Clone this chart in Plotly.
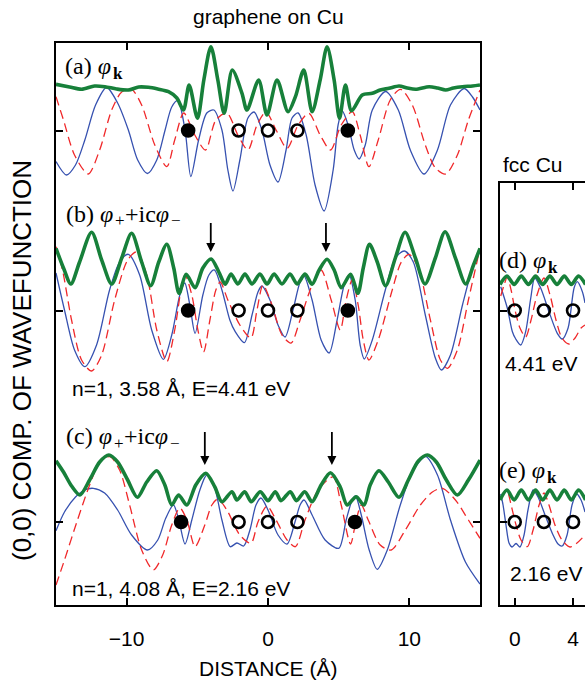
import plotly.graph_objects as go

# ---------------------------------------------------------------------------
# (0,0) Fourier component of the wavefunction along the surface normal.
# x: distance in Angstrom, y: amplitude in arbitrary units (relative to the
# zero line of each panel).  Blue = real part, red = imaginary part,
# green = modulus (drawn shifted upward).
# ---------------------------------------------------------------------------

# panel (a)  phi_k, graphene on Cu
a_re = [(-15.0, -3.1), (-14.26, -4.45), (-13.62, -3.45), (-12.96, -0.95), (-12.20, 2.55),
        (-11.42, 4.3), (-10.64, 2.75), (-9.88, 0.05), (-9.22, -2.95), (-8.53, -4.3),
        (-7.87, -2.95), (-7.28, 0.05), (-6.81, 2.35), (-6.38, 3.0), (-5.87, 0.05),
        (-5.46, -4.6), (-4.91, -0.95), (-4.33, 1.75), (-3.83, 2.05), (-3.26, 0.05),
        (-2.84, -3.95), (-2.48, -6.05), (-1.99, -2.95), (-1.42, 1.25), (-0.99, 1.85),
        (-0.43, 0.05), (0.14, -3.45), (0.71, -5.15), (1.28, -1.95), (1.70, 1.25),
        (2.13, 1.75), (2.70, -0.45), (3.33, -5.45), (3.97, -8.05), (4.61, -3.95),
        (4.96, 0.55), (5.25, 1.95), (5.67, 0.55), (6.10, -1.95), (6.45, -2.85),
        (6.88, -1.45), (7.38, 2.05), (8.32, 3.9), (9.22, 2.05), (10.07, -1.95),
        (11.04, -4.35), (11.99, -1.95), (12.91, 2.55), (13.88, 4.2), (14.47, 3.35),
        (15.0, 2.05)]
a_im = [(-15.0, 3.38), (-14.47, 1.05), (-13.69, -2.45), (-12.72, -4.35), (-11.91, -1.95),
        (-11.06, 2.05), (-10.35, 3.85), (-9.65, 4.12), (-8.94, 2.55), (-8.01, -1.45),
        (-7.16, -3.62), (-6.60, -0.95), (-5.96, 1.75), (-5.18, -0.45), (-4.42, -1.95),
        (-3.69, 1.05), (-2.91, 1.75), (-2.13, -0.45), (-1.42, -1.95), (-0.78, 0.55),
        (-0.14, 1.85), (0.57, 0.05), (1.35, -1.78), (2.13, 0.55), (2.89, 1.72),
        (3.69, -0.45), (4.42, -1.95), (5.18, 0.55), (5.96, 1.88), (6.52, -0.45),
        (7.14, -3.62), (7.80, -0.95), (8.65, 3.05), (9.38, 4.12), (10.21, 2.55),
        (11.13, -1.45), (11.84, -3.75), (12.57, -4.35), (13.40, -2.45), (14.18, 1.05),
        (15.0, 4.05)]
a_abs = [(-15.0, 4.62), (-14.04, 4.35), (-13.19, 4.12), (-12.27, 4.45), (-11.54, 4.38),
         (-10.71, 4.15), (-9.88, 4.05), (-9.15, 4.35), (-8.46, 4.32), (-7.80, 4.15),
         (-7.04, 3.88), (-6.45, 3.25), (-5.98, 2.05), (-5.58, 4.55), (-4.99, 1.22),
         (-4.54, 5.05), (-4.04, 8.38), (-3.55, 5.05), (-3.10, 1.72), (-2.53, 6.05),
         (-1.84, 3.72), (-1.49, 2.05), (-0.66, 5.05), (-0.07, 1.55), (0.64, 5.05),
         (1.42, 1.88), (1.94, 3.38), (2.53, 6.05), (3.12, 1.88), (3.69, 5.05),
         (4.18, 8.38), (4.68, 5.05), (5.06, 1.22), (5.48, 4.55), (5.91, 1.98),
         (6.67, 3.55), (7.38, 3.72), (7.94, 4.05), (8.56, 4.22), (9.27, 4.45),
         (9.86, 4.25), (10.45, 4.12), (11.40, 4.38), (11.99, 4.25), (12.57, 4.05),
         (13.12, 4.25), (13.76, 4.38), (14.47, 4.45), (15.0, 4.55)]

# panel (b)  phi_+ + i c phi_-, n=1, 3.58 A, E=4.41 eV
b_re = [(-15.0, 3.75), (-14.40, 0.05), (-13.69, -3.95), (-12.96, -5.62), (-12.13, -3.45),
        (-11.21, 2.05), (-10.50, 4.85), (-9.88, 5.62), (-9.08, 3.55), (-8.23, -1.95),
        (-7.40, -4.88), (-6.81, -2.45), (-6.24, 1.55), (-5.89, 2.75), (-5.53, 0.55),
        (-5.16, -2.28), (-4.61, 1.55), (-4.18, 3.55), (-3.79, 4.05), (-3.26, 2.05),
        (-2.70, -0.95), (-2.32, -2.12), (-1.67, -3.22), (-1.13, -0.45), (-0.71, 1.85),
        (-0.43, 2.45), (0.14, 1.05), (0.71, -1.45), (1.21, -2.65), (1.77, 0.05),
        (2.27, 2.85), (2.55, 3.45), (3.12, 1.05), (3.76, -2.95), (4.33, -4.25),
        (4.89, -0.95), (5.39, 2.55), (5.74, 3.55), (6.17, 1.05), (6.52, -3.45),
        (6.81, -4.85), (7.38, -2.95), (8.30, 2.05), (9.01, 5.25), (9.65, 5.95),
        (10.28, 4.85), (11.13, -0.45), (11.84, -4.75), (12.27, -5.95), (12.91, -4.45),
        (13.76, 0.55), (14.47, 4.25), (15.0, 5.95)]
b_im = [(-15.0, 6.38), (-14.54, 4.05), (-13.90, -0.95), (-13.19, -4.95), (-12.48, -6.05),
        (-11.77, -4.45), (-10.85, 1.05), (-9.93, 5.05), (-9.29, 5.88), (-8.58, 3.55),
        (-7.87, -1.95), (-7.16, -5.12), (-6.60, -1.95), (-6.10, 2.55), (-5.87, 3.55),
        (-5.39, 1.55), (-4.96, -1.95), (-4.56, -4.15), (-4.11, -0.95), (-3.69, 2.05),
        (-3.38, 2.85), (-2.84, 1.05), (-1.99, -1.45), (-1.21, -2.75), (-0.78, 0.05),
        (-0.35, 2.55), (0.28, 0.55), (0.99, -2.45), (1.63, -3.25), (2.27, -0.95),
        (3.12, 2.55), (3.76, 4.05), (4.47, 1.05), (5.11, -1.95), (5.53, 1.05),
        (5.96, 3.05), (6.38, 0.55), (6.74, -2.95), (7.14, -4.95), (7.80, -2.95),
        (8.79, 2.05), (9.43, 4.85), (9.98, 5.62), (10.64, 4.25), (11.49, -0.95),
        (12.20, -4.95), (12.70, -5.78), (13.40, -3.95), (14.18, 1.05), (15.0, 6.22)]
b_abs = [(-15.0, 6.22), (-14.47, 4.25), (-13.95, 2.65), (-13.33, 4.85), (-12.48, 7.82),
         (-11.77, 5.05), (-11.06, 2.65), (-10.35, 5.25), (-9.65, 7.72), (-8.94, 4.85),
         (-8.30, 2.48), (-7.73, 4.85), (-7.16, 6.62), (-6.67, 4.25), (-6.29, 1.72),
         (-5.79, 3.62), (-5.16, 2.28), (-4.61, 4.25), (-4.02, 5.15), (-3.48, 3.85),
         (-3.03, 2.62), (-2.62, 3.65), (-2.13, 2.65), (-1.63, 3.65), (-1.13, 2.65),
         (-0.57, 3.65), (-0.07, 2.65), (0.43, 3.65), (0.99, 2.65), (1.56, 3.65),
         (2.06, 2.65), (2.62, 3.65), (3.12, 2.62), (3.62, 4.05), (4.18, 5.12),
         (4.68, 4.05), (5.18, 2.28), (5.84, 3.62), (6.36, 1.72), (6.74, 4.25),
         (7.18, 6.62), (7.73, 4.85), (8.32, 2.48), (9.01, 5.25), (9.70, 7.82),
         (10.43, 5.25), (11.11, 2.65), (11.84, 5.25), (12.53, 7.88), (13.26, 5.25),
         (13.99, 2.65), (14.54, 4.55), (15.0, 6.22)]

# panel (c)  phi_+ + i c phi_-, n=1, 4.08 A, E=2.16 eV
c_re = [(-15.0, -0.87), (-14.40, 1.0), (-13.62, 2.5), (-12.98, 3.2), (-12.36, 3.37),
        (-11.56, 2.9), (-10.64, 1.2), (-9.65, -1.3), (-8.53, -2.8), (-7.80, -1.8),
        (-7.23, 0.4), (-6.69, 1.7), (-6.31, 0.2), (-5.87, -2.2), (-5.39, 0.2),
        (-4.82, 3.2), (-4.33, 4.7), (-3.83, 3.7), (-3.26, 0.2), (-2.67, -2.47),
        (-2.20, -2.1), (-1.72, -2.4), (-1.28, -0.8), (-0.85, 1.7), (-0.50, 2.4),
        (0.0, 1.2), (0.71, -1.3), (1.35, -2.2), (1.91, 0.0), (2.27, 1.7),
        (2.55, 2.2), (3.12, 0.7), (4.04, -1.8), (5.01, -2.63), (5.53, 0.2),
        (5.96, 2.2), (6.19, 2.6), (6.60, 0.7), (7.16, -2.8), (7.73, -4.73),
        (8.44, -2.8), (9.36, 1.7), (10.28, 5.2), (11.16, 6.53), (11.99, 4.7),
        (12.91, 0.2), (13.97, -4.0), (15.0, -6.2)]
c_im = [(-15.0, -6.3), (-14.40, -3.8), (-13.48, 0.2), (-12.62, 3.7), (-11.91, 6.0),
        (-11.18, 6.53), (-10.50, 5.2), (-9.79, 1.7), (-8.94, -2.8), (-8.11, -4.8),
        (-7.45, -3.3), (-6.81, -0.3), (-6.24, 1.4), (-5.74, 0.2), (-5.16, -2.47),
        (-4.47, -0.3), (-3.97, 1.7), (-3.55, 2.3), (-2.91, 1.2), (-1.99, -1.3),
        (-1.21, -2.13), (-0.71, 0.0), (-0.07, 1.6), (0.57, 0.2), (1.35, -1.8),
        (1.94, -2.47), (2.62, 0.2), (3.55, 3.2), (4.61, 4.5), (5.18, 1.7),
        (5.84, -2.2), (6.24, 0.2), (6.60, 1.7), (7.09, 0.2), (7.94, -2.3),
        (8.72, -2.8), (9.72, -0.8), (10.78, 1.7), (11.63, 3.0), (12.34, 3.37),
        (13.26, 2.2), (14.18, 0.2), (15.0, -1.63)]
c_abs = [(-15.0, 6.13), (-14.47, 5.0), (-13.90, 3.6), (-13.31, 2.7), (-12.62, 4.2),
         (-11.91, 6.0), (-11.26, 6.7), (-10.64, 6.0), (-9.93, 4.2), (-9.24, 2.47),
         (-8.58, 4.0), (-7.87, 5.13), (-7.30, 3.7), (-6.81, 1.7), (-6.33, 2.7),
         (-5.74, 1.7), (-5.11, 3.7), (-4.40, 4.87), (-3.76, 3.5), (-3.26, 2.03),
         (-2.55, 3.03), (-2.20, 2.2), (-1.65, 3.03), (-1.18, 2.03), (-0.55, 3.03),
         (0.0, 2.13), (0.52, 3.03), (0.92, 2.13), (1.58, 3.03), (2.01, 2.13),
         (2.60, 3.03), (3.12, 2.03), (3.76, 3.7), (4.42, 4.93), (5.11, 3.5),
         (5.60, 1.7), (6.24, 2.53), (6.79, 1.7), (7.23, 3.7), (7.85, 5.13),
         (8.51, 4.0), (9.27, 2.47), (9.93, 4.2), (10.64, 6.1), (11.28, 6.7),
         (11.91, 6.0), (12.62, 4.2), (13.40, 2.7), (14.18, 4.2), (15.0, 6.2)]

# panels (d), (e)  phi_k in bulk fcc Cu at 4.41 eV and 2.16 eV
d_re = [(-0.96, 2.38), (-0.51, 0.25), (-0.16, -2.12), (0.07, -2.85), (0.41, -3.45),
        (0.75, -2.12), (1.10, 1.25), (1.37, 3.25), (1.78, 2.25), (2.35, -0.12),
        (2.92, -2.28), (3.26, -2.85), (3.66, -1.75), (4.07, 2.25), (4.29, 2.88),
        (4.64, 1.88), (4.82, 0.75)]
d_im = [(-0.96, 1.45), (-0.73, 2.55), (-0.51, 3.35), (-0.25, 2.05), (0.02, 0.05),
        (0.36, -1.75), (0.75, -2.65), (1.12, -0.95), (1.53, 1.55), (2.01, 3.25),
        (2.42, 1.55), (2.83, -0.95), (3.24, -2.75), (3.72, -3.35), (4.14, -2.75),
        (4.55, -1.75), (4.82, -1.45)]
d_abs = [(-1.01, 2.6), (-0.53, 3.45), (-0.04, 2.6), (0.45, 3.45), (0.94, 2.6),
         (1.43, 3.45), (1.92, 2.6), (2.41, 3.45), (2.90, 2.6), (3.40, 3.45),
         (3.88, 2.6), (4.38, 3.45), (4.86, 2.6)]
e_re = [(-0.96, 2.8), (-0.80, 1.7), (-0.60, -0.3), (-0.39, -2.1), (-0.19, -2.5),
        (0.09, -2.15), (0.36, -2.5), (0.64, -1.3), (0.91, 1.2), (1.26, 3.2),
        (1.60, 2.5), (2.08, 0.7), (2.63, -1.3), (2.97, -2.2), (3.26, -2.4),
        (3.59, -1.3), (3.93, 1.7), (4.25, 2.8), (4.55, 2.2), (4.82, 1.0)]
e_im = [(-0.96, 2.2), (-0.73, 2.9), (-0.51, 3.03), (-0.25, 1.7), (0.09, -0.3),
        (0.43, -1.8), (0.86, -2.47), (1.26, -0.8), (1.67, 1.7), (2.01, 2.9),
        (2.35, 1.7), (2.76, -0.3), (3.24, -1.8), (3.79, -2.5), (4.27, -2.1),
        (4.82, -1.3)]
e_abs = [(-1.01, 2.2), (-0.53, 3.2), (-0.04, 2.2), (0.45, 3.2), (0.94, 2.2),
         (1.43, 3.2), (1.92, 2.2), (2.41, 3.2), (2.90, 2.2), (3.40, 3.2),
         (3.88, 2.2), (4.38, 3.2), (4.86, 2.2)]

# atomic planes (Angstrom)
open_atoms = [-2.08, 0.0, 2.08]          # Cu planes inside the slab
filled_atoms_ab = [-5.65, 5.65]           # graphene, panels (a) and (b)
filled_atoms_c = [-6.15, 6.15]            # graphene, panel (c)
bulk_atoms = [0.0, 2.0, 4.0]              # fcc Cu planes
arrow_x_b = [-4.05, 4.1]
arrow_x_c = [-4.47, 4.52]

x_ticks = [-10, 0, 10]
x_ticktext = ["\u221210", "0", "10"]
x2_ticks = [0, 4]
x2_ticktext = ["0", "4"]

# vertical placement of the panels on the shared amplitude axis
OFF_A, OFF_B, OFF_C = 47.45, 29.45, 8.3
Y_TOP, Y_TOP2 = 56.2, 42.2

BLUE = "#3651b0"
RED = "#f0282a"
GREEN = "#17803a"
SANS = "Liberation Sans, Arial, sans-serif"
SERIF = "Liberation Serif, Times New Roman, serif"

W, H = 585, 689


def px(xp):
    return xp / W


def py(yp):
    return 1 - yp / H


fig = go.Figure()


def add_panel(re, im, ab, off, xa, ya):
    for pts, color, width, dash in ((re, BLUE, 1.3, "solid"),
                                    (im, RED, 1.3, "9px,5px"),
                                    (ab, GREEN, 3.6, "solid")):
        fig.add_trace(go.Scatter(
            x=[p[0] for p in pts], y=[p[1] + off for p in pts],
            mode="lines", line=dict(color=color, width=width, dash=dash,
                                    shape="spline", smoothing=0.8),
            xaxis=xa, yaxis=ya, showlegend=False, hoverinfo="skip"))


def add_atoms(xs, off, filled, xa, ya):
    fig.add_trace(go.Scatter(
        x=xs, y=[off] * len(xs), mode="markers",
        marker=dict(symbol="circle" if filled else "circle-open", size=12,
                    color="black", line=dict(color="black", width=2.6)),
        xaxis=xa, yaxis=ya, showlegend=False, hoverinfo="skip"))


def add_arrows(xs, tip, tail):
    # shaft plus an arrowhead marker whose point sits on the tip
    for xv in xs:
        fig.add_trace(go.Scatter(
            x=[xv, xv], y=[tail, tip + 0.6], mode="lines",
            line=dict(color="black", width=1.8),
            showlegend=False, hoverinfo="skip"))
        fig.add_trace(go.Scatter(
            x=[xv], y=[tip], mode="markers",
            marker=dict(symbol="arrow-down", size=9, color="black",
                        line=dict(width=0)),
            showlegend=False, hoverinfo="skip"))


add_panel(a_re, a_im, a_abs, OFF_A, "x", "y")
add_panel(b_re, b_im, b_abs, OFF_B, "x", "y")
add_panel(c_re, c_im, c_abs, OFF_C, "x", "y")
add_panel(d_re, d_im, d_abs, OFF_B, "x2", "y2")
add_panel(e_re, e_im, e_abs, OFF_C, "x2", "y2")

for off, filled_x in ((OFF_A, filled_atoms_ab), (OFF_B, filled_atoms_ab), (OFF_C, filled_atoms_c)):
    add_atoms(open_atoms, off, False, "x", "y")
    add_atoms(filled_x, off, True, "x", "y")
for off in (OFF_B, OFF_C):
    add_atoms(bulk_atoms, off, False, "x2", "y2")

# arrows marking the maxima of the modulus next to the graphene layer
add_arrows(arrow_x_b, OFF_B + 5.85, OFF_B + 8.75)
add_arrows(arrow_x_c, OFF_C + 5.7, OFF_C + 9.0)

axis_common = dict(showline=True, linecolor="black", linewidth=2, ticks="inside",
                   ticklen=7, tickwidth=1.5, tickcolor="black", showgrid=False,
                   zeroline=False, fixedrange=True)

fig.update_layout(
    width=W, height=H, margin=dict(l=0, r=0, t=0, b=0),
    paper_bgcolor="white", plot_bgcolor="white",
    xaxis=dict(domain=[px(56), px(480)], range=[-15, 15], anchor="y",
               mirror="allticks", tickvals=x_ticks, ticktext=x_ticktext,
               tickfont=dict(family=SANS, size=21, color="black"),
               ticklabelstandoff=14, **axis_common),
    yaxis=dict(domain=[py(605), py(43)], range=[0, Y_TOP], anchor="x",
               mirror="allticks", tickvals=[OFF_C, OFF_B, OFF_A],
               showticklabels=False, **axis_common),
    xaxis2=dict(domain=[px(500), 1.0], range=[-1.01, 4.82], anchor="y2",
                mirror="allticks", tickvals=x2_ticks, ticktext=x2_ticktext,
                tickfont=dict(family=SANS, size=21, color="black"),
                ticklabelstandoff=14, **axis_common),
    yaxis2=dict(domain=[py(605), py(183)], range=[0, Y_TOP2], anchor="x2",
                mirror=False, tickvals=[OFF_C, OFF_B],
                showticklabels=False, **axis_common),
)


def text(x, y, s, size, family=SANS, xanchor="left", angle=0):
    fig.add_annotation(x=px(x), y=py(y), xref="paper", yref="paper", text=s,
                       showarrow=False, xanchor=xanchor, yanchor="middle",
                       textangle=angle, font=dict(family=family, size=size, color="black"))


def label(x, y, pieces):
    # panel label built from runs of normal text and lowered subscripts;
    # each piece is (text, advance in px, is_subscript)
    for s, adv, sub in pieces:
        if sub:
            text(x, y + 7, s, 17, SERIF)
        else:
            text(x, y, s, 24, SERIF)
        x += adv


text(268, 16, "graphene on Cu", 21, xanchor="center")
text(501, 165, "fcc Cu", 21)
text(268, 668, "DISTANCE (\u00c5)", 21, xanchor="center")
text(22, 361, "(0,0) COMP. OF WAVEFUNCTION", 26, xanchor="center", angle=-90)

PHI = "<i>\u03c6</i>"
label(63, 66, [("(a) " + PHI, 48, False), ("<b>k</b>", 0, True)])
label(64, 214, [("(b) " + PHI, 49, False), ("+", 10, True),
                ("+ic" + PHI, 46, False), ("\u2212", 0, True)])
label(64, 436, [("(c) " + PHI, 48, False), ("+", 10, True),
                ("+ic" + PHI, 46, False), ("\u2212", 0, True)])
label(497, 260, [("(d) " + PHI, 49, False), ("<b>k</b>", 0, True)])
label(497, 470, [("(e) " + PHI, 48, False), ("<b>k</b>", 0, True)])

text(70, 388, "n=1, 3.58 \u00c5, E=4.41 eV", 21)
text(70, 588, "n=1, 4.08 \u00c5, E=2.16 eV", 21)
text(503, 363, "4.41 eV", 21)
text(508, 573, "2.16 eV", 21)

fig.write_html("out.html")
